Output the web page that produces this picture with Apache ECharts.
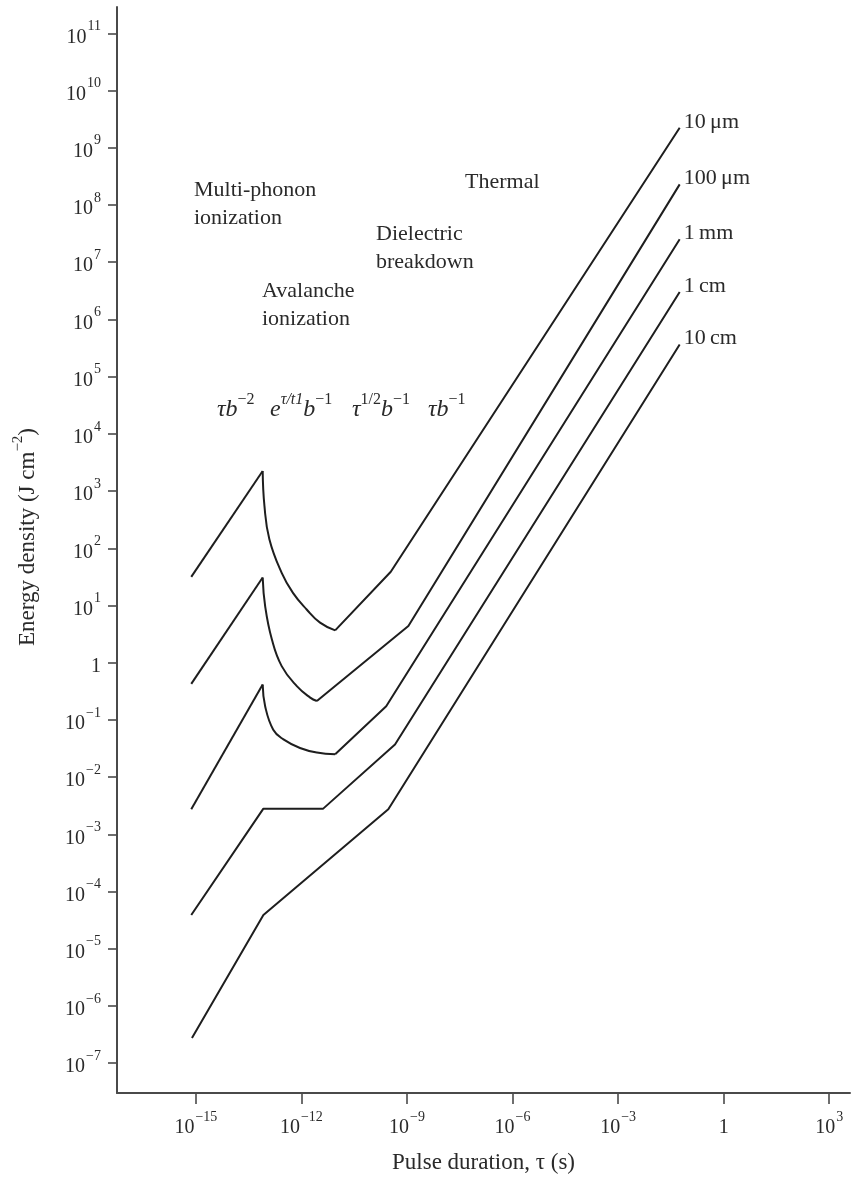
<!DOCTYPE html>
<html>
<head>
<meta charset="utf-8">
<script src="https://cdn.jsdelivr.net/npm/echarts@6/dist/echarts.min.js"></script>
<style>
  html, body { margin: 0; padding: 0; background: #fff; }
  #chart { width: 857px; height: 1182px; }
</style>
</head>
<body>
<div id="chart"></div>
<script>
// Damage threshold energy density versus pulse duration, one curve per size.
// All values are base-10 exponents: log10(tau / s) and log10(E / J cm^-2).

const xTicks = [-15, -12, -9, -6, -3, 0, 3];
const yTicks = [-7, -6, -5, -4, -3, -2, -1, 0, 1, 2, 3, 4, 5, 6, 7, 8, 9, 10, 11];

const sizeNames = ['10\u2009\u03bcm', '100\u2009\u03bcm', '1\u2009mm', '1\u2009cm', '10\u2009cm'];

const tau10um  = [-15.13, -13.10, -13.05, -12.91, -12.56, -12.24, -11.85, -11.47, -11.04, -9.46, -1.25];
const en10um   = [1.50, 3.35, 2.74, 2.16, 1.57, 1.22, 0.93, 0.70, 0.565, 1.59, 9.35];

const tau100um = [-15.13, -13.10, -13.03, -12.84, -12.56, -12.13, -11.75, -11.56, -8.96, -1.25];
const en100um  = [-0.37, 1.49, 0.99, 0.41, -0.06, -0.41, -0.61, -0.67, 0.64, 8.36];

const tau1mm   = [-15.13, -13.10, -13.03, -12.80, -12.51, -12.04, -11.56, -11.04, -9.59, -1.25];
const en1mm    = [-2.56, -0.38, -0.76, -1.17, -1.34, -1.49, -1.57, -1.60, -0.76, 7.40];

const tau1cm   = [-15.13, -13.08, -11.38, -9.34, -1.25];
const en1cm    = [-4.41, -2.55, -2.55, -1.43, 6.48];

const tau10cm  = [-15.11, -13.08, -9.53, -1.25];
const en10cm   = [-6.56, -4.41, -2.56, 5.56];

// Point index range [from, to] of the avalanche decay drawn as a smooth arc (null: none)
const decaySpan = [[1, 8], [1, 7], [1, 7], null, null];

const curves = [
  [tau10um, en10um], [tau100um, en100um], [tau1mm, en1mm], [tau1cm, en1cm], [tau10cm, en10cm]
];

const serif = '"Liberation Serif", "DejaVu Serif", serif';
const ink = '#1e1e1e';
const axisInk = '#4a4a4a';
const textInk = '#2a2a2a';

function powLabel(v) {
  if (v === 0) return '{b|1}';
  return '{b|10}{s|' + (v < 0 ? '\u2212' : '') + Math.abs(v) + '}';
}
const tickRich = {
  b: { fontFamily: serif, fontSize: 20, color: textInk, lineHeight: 28, verticalAlign: 'bottom' },
  s: { fontFamily: serif, fontSize: 14, color: textInk, lineHeight: 28, verticalAlign: 'top', padding: [0, 0, 0, 1] }
};

function pts(c, a, b) {
  const out = [];
  for (let k = a; k <= b; k++) out.push([c[0][k], c[1][k]]);
  return out;
}
function piece(data, smooth) {
  return {
    type: 'line', data: data, showSymbol: false, symbol: 'none',
    smooth: smooth ? 0.45 : false,
    lineStyle: { color: ink, width: 2 }, silent: true, animation: false
  };
}

const series = [];
curves.forEach(function (c, i) {
  const n = c[0].length;
  const span = decaySpan[i];
  let tailStart = 0;
  if (span) {
    series.push(piece(pts(c, 0, span[0]), false));
    series.push(piece(pts(c, span[0], span[1]), true));
    tailStart = span[1];
  }
  const tail = piece(pts(c, tailStart, n - 1), false);
  tail.name = sizeNames[i];
  tail.endLabel = {
    show: true, formatter: '{a}', fontFamily: serif, fontSize: 22,
    color: textInk, offset: [0, -6], distance: 4
  };
  series.push(tail);
});

// Region annotations
const textStyle = { fontFamily: serif, fontSize: 22, fill: textInk, lineHeight: 28 };
function note(x, y, str) {
  return { type: 'text', left: x, top: y, style: Object.assign({ text: str }, textStyle) };
}
const it = { fontFamily: serif, fontSize: 24, fontStyle: 'italic', fill: textInk, lineHeight: 30, verticalAlign: 'bottom' };
const sup = { fontFamily: serif, fontSize: 16, fill: textInk, lineHeight: 30, verticalAlign: 'top' };
const supIt = Object.assign({}, sup, { fontStyle: 'italic' });
const richFormula = { i: it, s: sup, si: supIt };
function formula(x, y, str) {
  return { type: 'text', left: x, top: y, style: { text: str, rich: richFormula } };
}

const chart = echarts.init(document.getElementById('chart'), null, { renderer: 'canvas' });
chart.setOption({
  backgroundColor: '#fff',
  animation: false,
  grid: { left: 117, right: 7, top: 7, bottom: 89, containLabel: false },
  xAxis: {
    type: 'value',
    min: -17.24,
    max: 3.59,
    name: 'Pulse duration, \u03c4 (s)',
    nameLocation: 'middle',
    nameGap: 58,
    nameTextStyle: { fontFamily: serif, fontSize: 23, color: textInk },
    axisLine: { show: true, onZero: false, lineStyle: { color: axisInk, width: 2 } },
    axisTick: { show: true, inside: false, length: 11, customValues: xTicks, lineStyle: { color: axisInk, width: 1.6 } },
    axisLabel: { customValues: xTicks, formatter: powLabel, rich: tickRich, margin: 17 },
    splitLine: { show: false }
  },
  yAxis: {
    type: 'value',
    min: -7.52,
    max: 11.46,
    name: '{n|Energy density (J cm}{s|\u22122}{n|)}',
    nameLocation: 'middle',
    nameGap: 78,
    nameTextStyle: {
      padding: [0, 0, 0, 26],
      rich: {
        n: { fontFamily: serif, fontSize: 23, color: textInk, lineHeight: 28, verticalAlign: 'bottom' },
        s: { fontFamily: serif, fontSize: 15, color: textInk, lineHeight: 28, verticalAlign: 'top' }
      }
    },
    axisLine: { show: true, onZero: false, lineStyle: { color: axisInk, width: 2 } },
    axisTick: { show: true, inside: false, length: 9, customValues: yTicks, lineStyle: { color: axisInk, width: 1.6 } },
    axisLabel: { customValues: yTicks, formatter: powLabel, rich: tickRich, margin: 16 },
    splitLine: { show: false }
  },
  graphic: [
    note(194, 176, 'Multi-phonon\nionization'),
    note(262, 277, 'Avalanche\nionization'),
    note(376, 220, 'Dielectric\nbreakdown'),
    note(465, 168, 'Thermal'),
    formula(217, 392, '{i|\u03c4b}{s|\u22122}'),
    formula(270, 392, '{i|e}{si|\u03c4/t1}{i|b}{s|\u22121}'),
    formula(352, 392, '{i|\u03c4}{s|1/2}{i|b}{s|\u22121}'),
    formula(428, 392, '{i|\u03c4b}{s|\u22121}')
  ],
  series: series
});
</script>
</body>
</html>
